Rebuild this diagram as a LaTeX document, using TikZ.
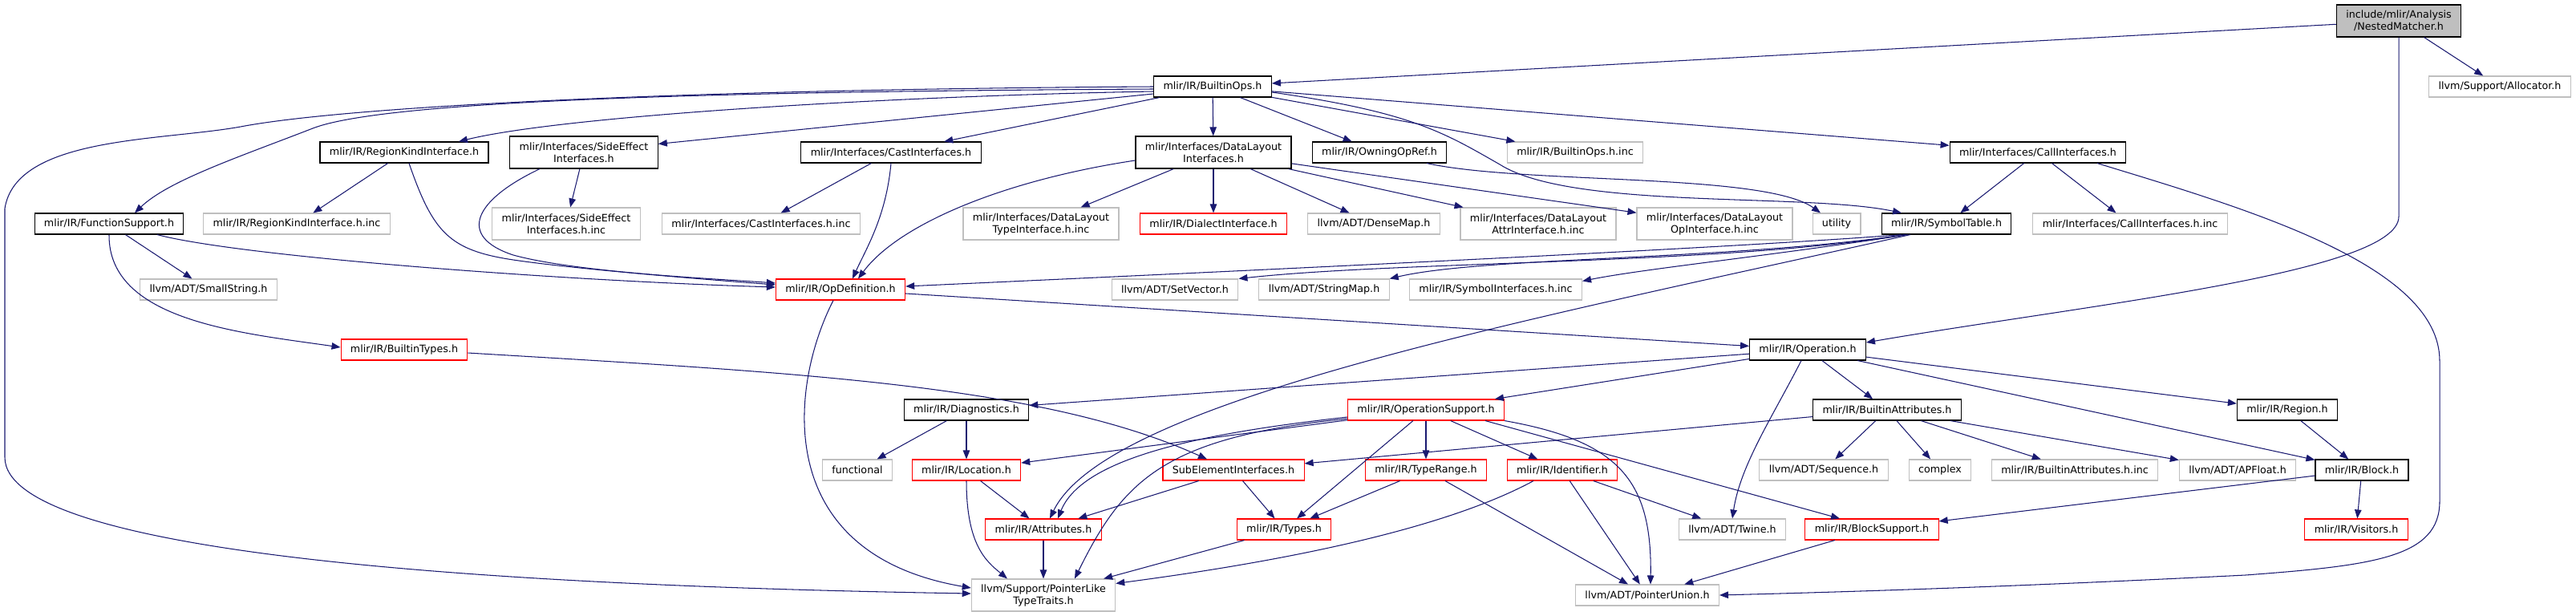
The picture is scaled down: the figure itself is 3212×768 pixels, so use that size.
\documentclass[tikz,border=0pt]{standalone}
\usepackage{fontspec}
\setmainfont{DejaVu Sans}
\usetikzlibrary{arrows.meta}

\definecolor{edgeblue}{HTML}{191970}
\definecolor{boxgrey}{HTML}{BFBFBF}

\begin{document}
\begin{tikzpicture}
[
	x=1pt,
	y=-1pt,
	docbox/.style={rectangle,draw=black,fill=white,line width=1.1pt,inner xsep=11.9pt,inner ysep=5pt,minimum height=26pt,align=center,font=\fontsize{12.7}{15}\selectfont},
	extbox/.style={docbox,draw=boxgrey},
	cutbox/.style={docbox,draw=red},
	rootbox/.style={docbox,fill=boxgrey},
	twoline/.style={minimum height=40pt},
	incl/.style={draw=edgeblue,line width=1.05pt,-{Triangle[length=11pt,width=8.5pt]}}
]

	\useasboundingbox (0,0) rectangle (3212,768);

	% top rows
	\node[rootbox,twoline] at (2991,26) (nested) {include/mlir/Analysis\\/NestedMatcher.h};
	\node[docbox] at (1512,108) (bops) {mlir/IR/BuiltinOps.h};
	\node[extbox] at (3117,108) (alloc) {llvm/Support/Allocator.h};

	\node[docbox] at (504,190) (regkind) {mlir/IR/RegionKindInterface.h};
	\node[docbox,twoline] at (728,190) (sideeff) {mlir/Interfaces/SideEffect\\Interfaces.h};
	\node[docbox] at (1111,190) (castif) {mlir/Interfaces/CastInterfaces.h};
	\node[docbox,twoline] at (1513,190) (dlif) {mlir/Interfaces/DataLayout\\Interfaces.h};
	\node[docbox] at (1720,190) (owning) {mlir/IR/OwningOpRef.h};
	\node[extbox] at (1964,190) (bopsinc) {mlir/IR/BuiltinOps.h.inc};
	\node[docbox] at (2541,190) (callif) {mlir/Interfaces/CallInterfaces.h};

	\node[docbox] at (136,279) (funcsup) {mlir/IR/FunctionSupport.h};
	\node[extbox] at (370,279) (regkindinc) {mlir/IR/RegionKindInterface.h.inc};
	\node[extbox,twoline] at (706,279) (sideeffinc) {mlir/Interfaces/SideEffect\\Interfaces.h.inc};
	\node[extbox] at (949,279) (castinc) {mlir/Interfaces/CastInterfaces.h.inc};
	\node[extbox,twoline] at (1298,279) (dltype) {mlir/Interfaces/DataLayout\\TypeInterface.h.inc};
	\node[cutbox] at (1513,279) (dialect) {mlir/IR/DialectInterface.h};
	\node[extbox] at (1713,279) (densemap) {llvm/ADT/DenseMap.h};
	\node[extbox,twoline] at (1918,279) (dlattr) {mlir/Interfaces/DataLayout\\AttrInterface.h.inc};
	\node[extbox,twoline] at (2138,279) (dlop) {mlir/Interfaces/DataLayout\\OpInterface.h.inc};
	\node[extbox] at (2290,279) (utility) {utility};
	\node[docbox] at (2427,279) (symtab) {mlir/IR/SymbolTable.h};
	\node[extbox] at (2656,279) (callinc) {mlir/Interfaces/CallInterfaces.h.inc};

	\node[extbox] at (260,361) (smallstr) {llvm/ADT/SmallString.h};
	\node[cutbox] at (1048,361) (opdef) {mlir/IR/OpDefinition.h};
	\node[extbox] at (1465,361) (setvec) {llvm/ADT/SetVector.h};
	\node[extbox] at (1651,361) (strmap) {llvm/ADT/StringMap.h};
	\node[extbox] at (1865,361) (syminc) {mlir/IR/SymbolInterfaces.h.inc};

	% lower rows
	\node[cutbox] at (504,436) (btypes) {mlir/IR/BuiltinTypes.h};
	\node[docbox] at (2254,436) (operation) {mlir/IR/Operation.h};

	\node[docbox] at (1205,511) (diag) {mlir/IR/Diagnostics.h};
	\node[cutbox] at (1778,511) (opsupport) {mlir/IR/OperationSupport.h};
	\node[docbox] at (2353,511) (battrs) {mlir/IR/BuiltinAttributes.h};
	\node[docbox] at (2852,511) (region) {mlir/IR/Region.h};

	\node[extbox] at (1069,586) (functional) {functional};
	\node[cutbox] at (1205,586) (location) {mlir/IR/Location.h};
	\node[cutbox] at (1538,586) (subelem) {SubElementInterfaces.h};
	\node[cutbox] at (1778,586) (typerange) {mlir/IR/TypeRange.h};
	\node[cutbox] at (1948,586) (ident) {mlir/IR/Identifier.h};
	\node[extbox] at (2274,586) (sequence) {llvm/ADT/Sequence.h};
	\node[extbox] at (2419,586) (complex) {complex};
	\node[extbox] at (2587,586) (battrsinc) {mlir/IR/BuiltinAttributes.h.inc};
	\node[extbox] at (2790,586) (apfloat) {llvm/ADT/APFloat.h};
	\node[docbox] at (2945,586) (block) {mlir/IR/Block.h};

	\node[cutbox] at (1301,660) (attrs) {mlir/IR/Attributes.h};
	\node[cutbox] at (1601,660) (types) {mlir/IR/Types.h};
	\node[extbox] at (2160,660) (twine) {llvm/ADT/Twine.h};
	\node[cutbox] at (2334,660) (blocksup) {mlir/IR/BlockSupport.h};
	\node[cutbox] at (2938,660) (visitors) {mlir/IR/Visitors.h};

	\node[extbox,twoline] at (1301,742) (ptraits) {llvm/Support/PointerLike\\TypeTraits.h};
	\node[extbox] at (2054,742) (punion) {llvm/ADT/PointerUnion.h};

	% edges from the root
	\draw[incl] (nested) -- (bops);
	\draw[incl] (nested) -- (alloc);
	\draw[incl] (nested.south) -- (2991,270) .. controls (2991,340) and (2600,380) .. ([yshift=9pt]operation.east);

	% edges from BuiltinOps.h
	\draw[incl] (bops.west) .. controls (800,112) and (420,135) .. (300,158) .. controls (200,176) and (20,170) .. (6,260) -- (6,570) .. controls (6,690) and (600,730) .. ([yshift=2pt]ptraits.west);
	\draw[incl] ([yshift=-3pt]bops.west) .. controls (900,114) and (480,125) .. (390,160) .. controls (300,195) and (210,225) .. ([xshift=32pt]funcsup.north);
	\draw[incl] ([yshift=-6pt]bops.west) .. controls (1100,120) and (700,145) .. ([xshift=68pt]regkind.north);
	\draw[incl] ([yshift=-9pt]bops.west) -- ([yshift=-10pt]sideeff.north east);
	\draw[incl] (bops) -- (castif);
	\draw[incl] (bops) -- (dlif);
	\draw[incl] (bops) -- (owning);
	\draw[incl] (bops) -- (bopsinc);
	\draw[incl] (bops) -- (callif);
	\draw[incl] ([yshift=-7pt]bops.east) .. controls (1760,140) and (1800,165) .. (1870,205) .. controls (1960,262) and (2250,240) .. ([xshift=-56pt]symtab.north);

	% second row
	\draw[incl] (regkind) -- (regkindinc);
	\draw[incl] ([xshift=6pt]regkind.south) .. controls (540,290) and (560,312) .. (640,324) .. controls (720,336) and (900,350) .. ([yshift=6pt]opdef.west);
	\draw[incl] (sideeff) -- (sideeffinc);
	\draw[incl] ([xshift=-55pt]sideeff.south) .. controls (590,250) and (570,295) .. (640,318) .. controls (720,340) and (900,348) .. ([yshift=8pt]opdef.west);
	\draw[incl] (castif) -- (castinc);
	\draw[incl] (castif.south) .. controls (1105,270) and (1080,310) .. ([xshift=15pt]opdef.north);
	\draw[incl] ([yshift=-10pt]dlif.west) .. controls (1250,225) and (1120,280) .. ([xshift=22pt]opdef.north);
	\draw[incl] (dlif) -- (dltype);
	\draw[incl] (dlif) -- (dialect);
	\draw[incl] (dlif) -- (densemap);
	\draw[incl] (dlif) -- (dlattr);
	\draw[incl] (dlif) -- (dlop);
	\draw[incl] ([xshift=59pt]owning.south) .. controls (1900,230) and (2200,215) .. ([xshift=-20pt]utility.north);
	\draw[incl] (callif) -- (symtab);
	\draw[incl] (callif) -- (callinc);
	\draw[incl] ([xshift=74pt]callif.south) .. controls (2800,260) and (3042,330) .. (3042,450) -- (3042,625) .. controls (3042,695) and (2960,705) .. (2800,717) .. controls (2500,732) and (2300,738) .. (punion.east);

	% third row
	\draw[incl] (funcsup) -- (smallstr);
	\draw[incl] ([xshift=60pt]funcsup.south) .. controls (300,320) and (700,350) .. ([yshift=3pt]opdef.west);
	\draw[incl] (funcsup.south) .. controls (135,400) and (300,415) .. ([yshift=3pt]btypes.west);
	\draw[incl] ([xshift=-56pt]symtab.south) .. controls (2150,310) and (1500,340) .. ([yshift=4pt]opdef.east);
	\draw[incl] ([xshift=-52pt]symtab.south) .. controls (2150,330) and (1750,325) .. (setvec.north east);
	\draw[incl] ([xshift=-50pt]symtab.south) .. controls (2150,325) and (1850,320) .. (strmap.north east);
	\draw[incl] ([xshift=-48pt]symtab.south) .. controls (2200,320) and (2050,335) .. ([yshift=-3pt]syminc.north east);
	\draw[incl] ([xshift=-45pt]symtab.south) .. controls (1900,400) and (1380,500) .. ([xshift=8pt]attrs.north);
	\draw[incl] (opdef) -- (operation);
	\draw[incl] ([xshift=-9pt]opdef.south) .. controls (985,480) and (960,690) .. ([yshift=9pt]ptraits.west);
	\draw[incl] ([yshift=-4pt]btypes.east) .. controls (1000,465) and (1300,480) .. ([xshift=-33pt]subelem.north);

	% Operation.h and below
	\draw[incl] (operation) -- (diag);
	\draw[incl] (operation) -- (opsupport);
	\draw[incl] (operation) -- (battrs);
	\draw[incl] (operation) -- (region);
	\draw[incl] (operation) -- (block);
	\draw[incl] ([xshift=-8pt]operation.south) .. controls (2210,520) and (2170,580) .. (twine.north);

	\draw[incl] (diag) -- (functional);
	\draw[incl] (diag) -- (location);

	\draw[incl] (opsupport) -- (location);
	\draw[incl] ([yshift=-9pt]opsupport.west) .. controls (1500,540) and (1350,570) .. ([xshift=18pt]attrs.north);
	\draw[incl] ([yshift=-11pt]opsupport.west) .. controls (1450,545) and (1400,600) .. ([xshift=39pt]ptraits.north);
	\draw[incl] (opsupport) -- (types);
	\draw[incl] (opsupport) -- (typerange);
	\draw[incl] (opsupport) -- (ident);
	\draw[incl] (opsupport.south east) .. controls (2020,550) and (2060,600) .. ([xshift=4pt]punion.north);
	\draw[incl] ([xshift=74pt]opsupport.south) -- ([xshift=-40pt]blocksup.north);

	\draw[incl] (battrs) -- (subelem);
	\draw[incl] (battrs) -- (sequence);
	\draw[incl] (battrs) -- (complex);
	\draw[incl] (battrs) -- (battrsinc);
	\draw[incl] (battrs) -- (apfloat);
	\draw[incl] (region) -- (block);
	\draw[incl] (block) -- (blocksup);
	\draw[incl] (block) -- (visitors);

	\draw[incl] (location) -- (attrs);
	\draw[incl] (location.south) .. controls (1205,680) and (1230,700) .. ([xshift=-45pt]ptraits.north);
	\draw[incl] (subelem) -- (attrs);
	\draw[incl] (subelem) -- (types);
	\draw[incl] (typerange) -- (types);
	\draw[incl] (typerange) -- (punion);
	\draw[incl] ([xshift=-36pt]ident.south) .. controls (1800,660) and (1600,700) .. ([yshift=-6pt]ptraits.north east);
	\draw[incl] (ident) -- (punion);
	\draw[incl] (ident) -- (twine);

	% last row
	\draw[incl] (attrs) -- (ptraits);
	\draw[incl] (types) -- (ptraits);
	\draw[incl] (blocksup) -- (punion);

\end{tikzpicture}
\end{document}
